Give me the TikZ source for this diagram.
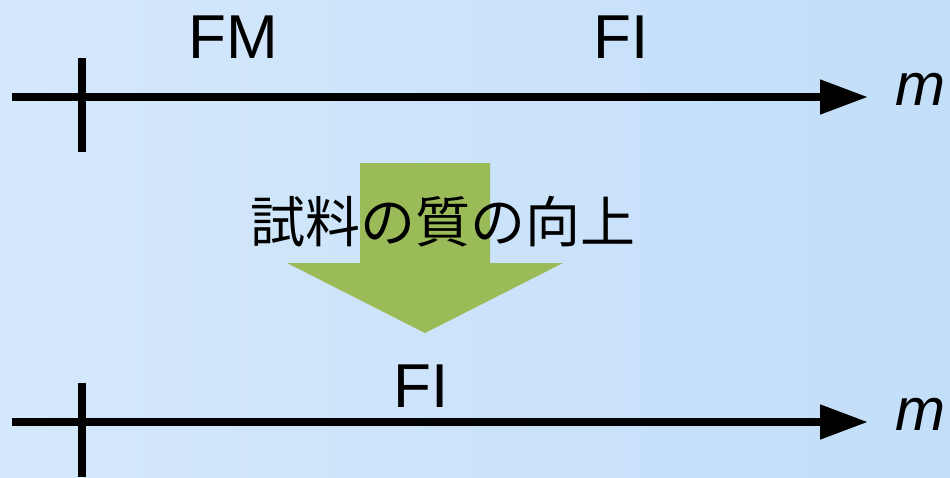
\documentclass[tikz,border=0pt]{standalone}
\usepackage{fontspec}
\setmainfont{Liberation Sans}
\newfontfamily\cjk{Noto Sans CJK JP}
\usetikzlibrary{arrows.meta}
\definecolor{bgleft}{HTML}{D4E8FB}
\definecolor{bgright}{HTML}{C3DEF9}
\definecolor{arrowgreen}{HTML}{9BBB59}
\begin{document}
\begin{tikzpicture}[x=1pt,y=-1pt,
  axis/.style={line width=8pt,-{Triangle[length=48pt,width=33pt]}},
  tickmark/.style={line width=8pt},
  lbl/.style={font=\fontsize{62}{66}\selectfont,anchor=base,inner sep=0pt},
  mlbl/.style={font=\fontsize{60}{64}\selectfont\itshape,anchor=base,inner sep=0pt},
  cjklbl/.style={font=\cjk\fontsize{55}{60}\selectfont,anchor=base,inner sep=0pt}]
\useasboundingbox (0,0) rectangle (950,477);
\shade[left color=bgleft,right color=bgright] (0,0) rectangle (950,477);
% top axis
\coordinate (a1s) at (12,97);
\coordinate (a1e) at (868,97);
\coordinate (t1a) at (82,58);
\coordinate (t1b) at (82,152);
\draw[axis] (a1s) -- (a1e);
\draw[tickmark] (t1a) -- (t1b);
\node[mlbl] (m1) at (920,105) {m};
\node[lbl] (fm) at (233,58) {FM};
\node[lbl] (fi1) at (621,58) {FI};
% green arrow
\fill[arrowgreen] (360,163) -- (490,163) -- (490,263) -- (563,263) -- (425,333) -- (287,263) -- (360,263) -- cycle;
\node[cjklbl] (txt) at (443,242) {試料の質の向上};
% bottom axis
\coordinate (a2s) at (12,422);
\coordinate (a2e) at (868,422);
\coordinate (t2a) at (82,383);
\coordinate (t2b) at (82,477);
\draw[axis] (a2s) -- (a2e);
\draw[tickmark] (t2a) -- (t2b);
\node[mlbl] (m2) at (920,430) {m};
\node[lbl] (fi2) at (421,407) {FI};
\end{tikzpicture}
\end{document}
